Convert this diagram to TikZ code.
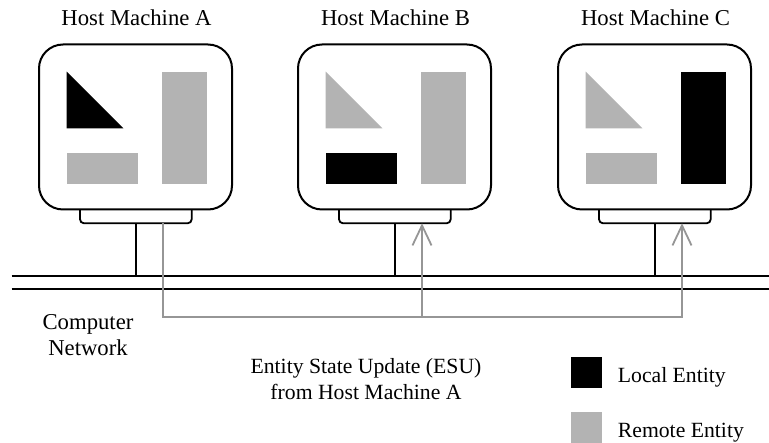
\documentclass[tikz,border=0pt]{standalone}
\usepackage{fontspec}
\setmainfont{Liberation Serif}
\usetikzlibrary{arrows.meta}
\definecolor{fillgray}{RGB}{179,179,179}
\definecolor{linegray}{RGB}{150,150,150}
\begin{document}
\begin{tikzpicture}[x=1pt,y=-1pt,
  hostbox/.style={draw=black, line width=2pt, fill=white, rounded corners=24pt,
    minimum width=193pt, minimum height=165pt, inner sep=0pt},
  label/.style={font=\fontsize{22.7}{26.7}\selectfont, inner sep=0pt},
  smalllabel/.style={font=\fontsize{21.7}{26.7}\selectfont, inner sep=0pt},
  standbox/.style={draw=black, line width=1.8pt, rounded corners=4pt},
  wire/.style={draw=black, line width=1.6pt},
  netline/.style={draw=black, line width=2pt},
  esu/.style={draw=linegray, line width=1.8pt},
  esuarrow/.style={esu, -{Straight Barb[length=20pt,width=19pt,line width=1.8pt]}},
  legsq/.style={minimum size=31pt, inner sep=0pt, draw=none}]
\useasboundingbox (0,0) rectangle (769,443);

% network
\coordinate (netL1) at (11.7,276);
\coordinate (netR1) at (769,276);
\coordinate (netL2) at (11.7,289.3);
\coordinate (netR2) at (769,289.3);
\draw[netline] (netL1) -- (netR1);
\draw[netline] (netL2) -- (netR2);

\foreach \n/\X/\ct/\cr/\cb in {A/39/black/fillgray/fillgray, B/298/fillgray/black/fillgray, C/558/fillgray/fillgray/black}{
  \draw[standbox] (\X+41,205) -- (\X+41,223.3) -- (\X+152.7,223.3) -- (\X+152.7,205);
  \node[hostbox] (box\n) at (\X+96.5,127) {};
  \node[label, anchor=base] (title\n) at (\X+97.5,26) {Host Machine \n};
  \fill[\ct] (\X+27.7,71.7) -- (\X+27.7,128.3) -- (\X+84.3,128.3) -- cycle;
  \fill[\cr] (\X+27.7,153.3) rectangle (\X+98.7,184);
  \fill[\cb] (\X+123,71.7) rectangle (\X+167.7,184);
  \coordinate (drop\n) at (\X+96.7,223.3);
  \coordinate (tap\n) at (\X+96.7,276);
  \coordinate (port\n) at (\X+124,223.3);
  \draw[wire] (drop\n) -- (tap\n);
}

% ESU path
\coordinate (esuLow) at (0,316.7);
\draw[esuarrow] (portA) |- (portC |- esuLow) -- (portC);
\draw[esuarrow] (portB |- esuLow) -- (portB);

% labels
\node[label, align=center, anchor=base] (net) at (88,356) {Computer\\Network};
\node[smalllabel, align=center, anchor=base] (esuText) at (366,400) {Entity State Update (ESU)\\from Host Machine A};

% legend
\node[legsq, fill=black] (legLocal) at (586.5,372.8) {};
\node[legsq, fill=fillgray] (legRemote) at (586.5,427.5) {};
\node[smalllabel, anchor=base west] (legLocalText) at (617.7,382.5) {Local Entity};
\node[smalllabel, anchor=base west] (legRemoteText) at (617.7,438) {Remote Entity};
\end{tikzpicture}
\end{document}
